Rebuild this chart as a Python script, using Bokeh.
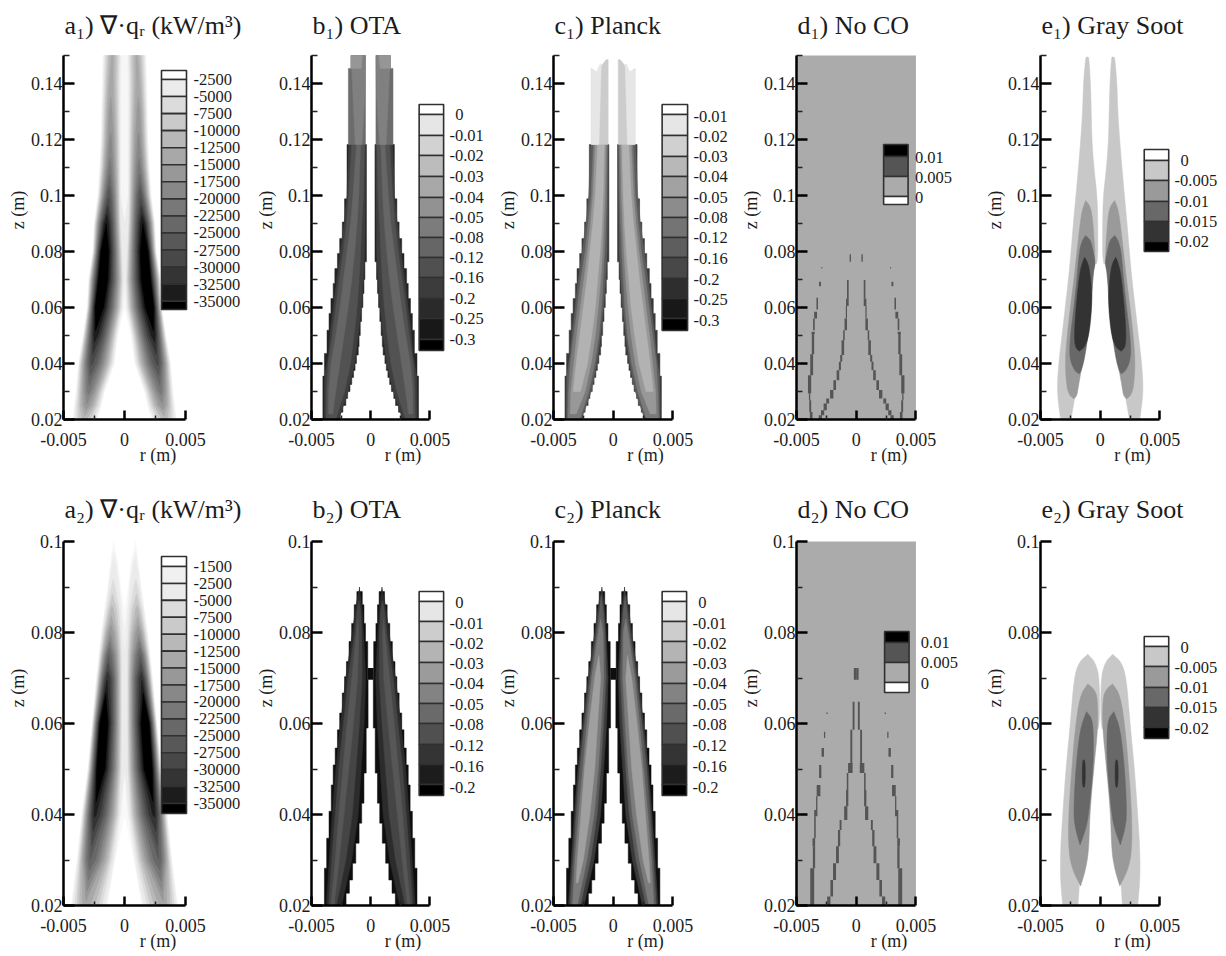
import numpy as np
from bokeh.embed import file_html
from bokeh.resources import INLINE
from bokeh.core.properties import value
from bokeh.layouts import column, row
from bokeh.models import FixedTicker, Label, Range1d
from bokeh.plotting import figure

# ---------- titles and tick labels ----------
TITLES_1 = ["a₁) ∇·qᵣ (kW/m³)", "b₁) OTA", "c₁) Planck", "d₁) No CO", "e₁) Gray Soot"]
TITLES_2 = ["a₂) ∇·qᵣ (kW/m³)", "b₂) OTA", "c₂) Planck", "d₂) No CO", "e₂) Gray Soot"]
R_TICKS = [-0.005, 0, 0.005]
R_TICK_LABELS = ["-0.005", "0", "0.005"]
R_MINOR = [-0.0025, 0.0025]
Z1_TICKS = [0.02, 0.04, 0.06, 0.08, 0.1, 0.12, 0.14]
Z1_TICK_LABELS = ["0.02", "0.04", "0.06", "0.08", "0.1", "0.12", "0.14"]
Z1_MINOR = [0.03, 0.05, 0.07, 0.09, 0.11, 0.13, 0.15]
Z2_TICKS = [0.02, 0.04, 0.06, 0.08, 0.1]
Z2_TICK_LABELS = ["0.02", "0.04", "0.06", "0.08", "0.1"]
Z2_MINOR = [0.03, 0.05, 0.07, 0.09]

# ---------- legend labels ----------
A1_LABELS = ["-2500", "-5000", "-7500", "-10000", "-12500", "-15000", "-17500", "-20000",
             "-22500", "-25000", "-27500", "-30000", "-32500", "-35000"]
A2_LABELS = ["-1500", "-2500", "-5000", "-7500", "-10000", "-12500", "-15000", "-17500", "-20000",
             "-22500", "-25000", "-27500", "-30000", "-32500", "-35000"]
B1_LABELS = ["0", "-0.01", "-0.02", "-0.03", "-0.04", "-0.05", "-0.08", "-0.12", "-0.16", "-0.2", "-0.25", "-0.3"]
C1_LABELS = ["-0.01", "-0.02", "-0.03", "-0.04", "-0.05", "-0.08", "-0.12", "-0.16", "-0.2", "-0.25", "-0.3"]
B2_LABELS = ["0", "-0.01", "-0.02", "-0.03", "-0.04", "-0.05", "-0.08", "-0.12", "-0.16", "-0.2"]
D_LABELS = ["0.01", "0.005", "0"]
E_LABELS = ["0", "-0.005", "-0.01", "-0.015", "-0.02"]

# ---------- panel a: per height z (m): value on the axis, r (mm) where the lobe starts,
#            r of its ridge, r where it ends, and |div q| on the ridge (1000 kW/m3) ----------
A1_Z =     [.02, .025, .03, .04, .05, .06, .07, .08, .09, .10, .11, .12, .13, .14, .15]
A1_AXIS =  [0, 0, 0, 0, .5, 1.5, 3, 3, 3, 1.5, 1.5, 1.5, 1.5, 1.5, 1.5]
A1_START = [2.2, 1.85, 1.6, .8, .55, .15, .1, .2, .3, .3, .3, .3, .3, .3, .25]
A1_RIDGE = [3.3, 3.1, 2.95, 2.7, 2.4, 2.2, 1.85, 1.7, 1.5, 1.3, 1.2, 1.15, 1.15, 1.1, 1.0]
A1_END =   [4.3, 4.15, 4.0, 3.8, 3.4, 3.06, 2.95, 2.6, 2.5, 2.2, 2.05, 1.95, 1.9, 1.85, 1.8]
A1_PEAK =  [11, 17, 21, 28, 34, 40, 41, 41, 35, 27, 21, 18, 16, 14, 13]
A2_Z =     [.02, .03, .04, .05, .06, .07, .075, .08, .085, .09, .095, .1]
A2_AXIS =  [0, 0, .5, 2.5, 3, 3, 3, 2, 1, .3, 0, 0]
A2_START = [1.37, .75, .27, .2, .2, .2, .2, .2, .2, .3, .45, .85]
A2_RIDGE = [3.2, 2.8, 2.43, 2.05, 1.8, 1.4, 1.3, 1.15, 1.05, .95, .9, .9]
A2_END =   [4.4, 3.9, 3.5, 3.0, 2.65, 2.3, 2.1, 1.9, 1.65, 1.4, 1.2, .95]
A2_PEAK =  [14, 25, 33, 40, 41, 32, 25, 17, 11, 6, 3, .6]
A1_LEVELS = [0.8, 2.5, 5, 7.5, 10, 12.5, 15, 17.5, 20, 22.5, 25, 27.5, 30, 32.5, 35]
A2_LEVELS = [0.5, 1.5, 2.5, 5, 7.5, 10, 12.5, 15, 17.5, 20, 22.5, 25, 27.5, 30, 32.5, 35]

# ---------- panels b, c: staircase mesh edges (z top of step, r mm) ----------
R1_START = 0.02
R1_OUT = [(.0355, 4.04), (.0436, 3.91), (.0519, 3.69), (.0579, 3.52), (.0632, 3.36), (.0686, 3.17),
          (.0739, 3.03), (.0793, 2.81), (.0846, 2.62), (.0905, 2.4), (.0988, 2.21), (.1182, 2.0)]
R1_IN = [(.0226, 2.57), (.025, 2.35), (.0275, 2.1), (.03, 1.95), (.0325, 1.75), (.035, 1.6), (.0375, 1.45),
         (.04, 1.32), (.043, 1.2), (.046, 1.05), (.05, .98), (.055, .88), (.06, .77), (.065, .66), (.07, .57),
         (.0763, .49), (.1182, .36)]
R2_OUT = [(.0282, 3.91), (.0348, 3.72), (.0407, 3.52), (.0465, 3.33), (.0509, 3.17), (.0546, 3.0), (.0586, 2.81),
          (.0623, 2.62), (.0667, 2.4), (.0703, 2.21), (.0736, 2.05), (.078, 1.83), (.082, 1.61), (.0861, 1.39),
          (.089, 1.17), (.09, .95)]
R2_IN = [(.0227, 2.08), (.0256, 1.8), (.0293, 1.53), (.0337, 1.26), (.0381, .98), (.0425, .76), (.0491, .57),
         (.059, .38), (.0696, .22), (.078, .25), (.082, .44), (.0861, .57), (.089, .71), (.09, .95)]
R2_BRIDGE = (.0696, .0722, .25)

# bands as (z, r mm) paths: one outer and one inner path per band
B1_OUTER = [
    [(.02, 3.92), (.0355, 3.88), (.0436, 3.55), (.052, 3.4), (.06, 3.15), (.0686, 2.9), (.08, 2.55), (.09, 2.25), (.1, 2.0), (.1182, 1.85)],
    [(.02, 3.75), (.03, 3.72), (.04, 3.58), (.05, 3.25), (.06, 2.95), (.07, 2.65), (.08, 2.32), (.09, 2.05), (.1, 1.85), (.1182, 1.6)],
    [(.022, 3.55), (.03, 3.55), (.04, 3.35), (.05, 2.95), (.06, 2.6), (.07, 2.3), (.08, 2.0), (.09, 1.7), (.1, 1.5), (.1182, 1.2)],
    [(.1182, 1.885), (.1454, 1.885), (.1454, 1.67), (.15, 1.67)],
    [(.1182, 1.3), (.1454, 1.6), (.15, 1.5)],
    [(.1454, 1.67), (.15, 1.67)],
]
B1_INNER = [
    [(.02, 2.7), (.03, 1.9), (.04, 1.35), (.05, 1.05), (.06, .8), (.07, .62), (.08, .5), (.1, .45), (.1182, .42)],
    [(.02, 2.95), (.03, 2.2), (.04, 1.7), (.05, 1.4), (.06, 1.15), (.07, .97), (.08, .85), (.09, .75), (.1, .62), (.1182, .52)],
    [(.022, 3.2), (.03, 2.95), (.04, 2.6), (.05, 2.25), (.06, 1.9), (.07, 1.6), (.08, 1.35), (.09, 1.15), (.1, 1.0), (.1182, .85)],
    [(.1182, .44), (.15, .44)],
    [(.1182, .75), (.135, .5), (.15, .45)],
    [(.1454, .8), (.15, .7)],
]
C1_OUTER = [
    [(.02, 3.92), (.0355, 3.88), (.0436, 3.6), (.052, 3.42), (.06, 3.18), (.0686, 2.95), (.08, 2.6), (.09, 2.28), (.1, 2.05), (.1182, 1.88)],
    [(.02, 3.8), (.03, 3.75), (.04, 3.6), (.05, 3.3), (.06, 3.0), (.07, 2.7), (.08, 2.35), (.09, 2.1), (.1, 1.85), (.1182, 1.65)],
    [(.022, 3.6), (.03, 3.55), (.04, 3.3), (.05, 3.05), (.06, 2.75), (.07, 2.45), (.08, 2.15), (.09, 1.9), (.1, 1.7), (.1182, 1.5)],
    [(.03, 3.35), (.04, 3.1), (.05, 2.8), (.06, 2.5), (.07, 2.2), (.08, 1.95), (.09, 1.7), (.1, 1.5), (.1182, 1.3)],
    [(.1182, 1.83), (.1454, 1.83), (.144, 1.4), (.1485, .6)],
    [(.1182, 1.83), (.1454, 1.83), (.144, 1.4), (.147, 1.1)],
]
C1_INNER = [
    [(.02, 2.65), (.03, 1.85), (.04, 1.38), (.05, 1.06), (.06, .82), (.07, .64), (.08, .52), (.1, .46), (.1182, .42)],
    [(.02, 2.8), (.03, 2.05), (.04, 1.55), (.05, 1.2), (.06, .98), (.07, .85), (.08, .72), (.09, .62), (.1, .55), (.1182, .5)],
    [(.022, 3.1), (.03, 2.35), (.04, 1.85), (.05, 1.5), (.06, 1.25), (.07, 1.05), (.08, .9), (.09, .8), (.1, .7), (.1182, .62)],
    [(.03, 2.75), (.04, 2.15), (.05, 1.8), (.06, 1.5), (.07, 1.3), (.08, 1.1), (.09, .95), (.1, .85), (.1182, .75)],
    [(.1182, .42), (.1485, .42)],
    [(.1182, 1.2), (.147, 1.0)],
]
B2_OUTER = [
    [(.02, 3.75), (.03, 3.5), (.04, 3.25), (.05, 2.95), (.06, 2.55), (.07, 2.1), (.08, 1.55), (.085, 1.3), (.088, 1.1), (.0895, .95)],
    [(.02, 3.55), (.03, 3.3), (.04, 3.0), (.05, 2.7), (.06, 2.3), (.07, 1.9), (.08, 1.35), (.085, 1.15), (.087, 1.0)],
    [(.02, 3.35), (.03, 3.0), (.04, 2.7), (.05, 2.35), (.06, 2.0), (.07, 1.6), (.08, 1.2), (.083, 1.1)],
]
B2_INNER = [
    [(.02, 2.45), (.03, 1.6), (.04, 1.05), (.05, .8), (.06, .55), (.07, .42), (.08, .6), (.085, .72), (.088, .85), (.0895, .95)],
    [(.02, 2.9), (.03, 2.1), (.04, 1.55), (.05, 1.25), (.06, .95), (.07, .72), (.08, .75), (.085, .85), (.087, 1.0)],
    [(.02, 3.1), (.03, 2.65), (.04, 2.25), (.05, 1.85), (.06, 1.45), (.07, 1.1), (.08, 1.0), (.083, 1.1)],
]
C2_OUTER = [
    [(.02, 3.75), (.03, 3.5), (.04, 3.25), (.05, 2.95), (.06, 2.55), (.07, 2.1), (.08, 1.55), (.085, 1.3), (.088, 1.1), (.0895, .95)],
    [(.02, 3.6), (.03, 3.35), (.04, 3.1), (.05, 2.8), (.06, 2.4), (.07, 1.95), (.08, 1.4), (.085, 1.15), (.088, 1.0)],
    [(.02, 3.4), (.03, 3.2), (.04, 2.9), (.05, 2.55), (.06, 2.2), (.07, 1.8), (.08, 1.25), (.083, 1.05)],
    [(.025, 3.1), (.03, 3.0), (.04, 2.7), (.05, 2.4), (.06, 2.0), (.07, 1.55), (.075, 1.2)],
]
C2_INNER = [
    [(.02, 2.45), (.03, 1.6), (.04, 1.05), (.05, .8), (.06, .55), (.07, .42), (.08, .6), (.085, .72), (.088, .85), (.0895, .95)],
    [(.02, 2.75), (.03, 1.9), (.04, 1.35), (.05, 1.05), (.06, .8), (.07, .6), (.08, .7), (.085, .85), (.088, 1.0)],
    [(.02, 3.0), (.03, 2.2), (.04, 1.6), (.05, 1.25), (.06, 1.0), (.07, .8), (.08, .85), (.083, 1.05)],
    [(.025, 2.95), (.03, 2.5), (.04, 1.95), (.05, 1.55), (.06, 1.3), (.07, 1.05), (.075, 1.2)],
]

# ---------- panel d: thin strips (z low, z high, r low mm, r high mm) ----------
D1_STRIPS = [
    (.02, .0227, 3.66, 3.88), (.0227, .0269, 3.77, 3.93), (.0269, .0293, 3.85, 3.96), (.0293, .0358, 3.77, 4.04),
    (.0358, .0433, 3.61, 3.85), (.0433, .0507, 3.52, 3.72), (.0505, .0513, 3.47, 3.74), (.0519, .0561, 3.47, 3.61),
    (.0561, .0585, 3.28, 3.52), (.0593, .0635, 3.2, 3.33), (.0676, .0692, 2.95, 3.11), (.0739, .0745, 2.84, 2.92),
    (.02, .0215, 2.87, 3.14), (.0215, .0233, 2.68, 2.95), (.0233, .0257, 2.46, 2.73), (.0257, .0275, 2.27, 2.51),
    (.0275, .0305, 1.91, 2.19), (.0305, .034, 1.69, 1.91), (.034, .0376, 1.42, 1.64), (.0376, .0406, 1.28, 1.45),
    (.0406, .043, 1.17, 1.34), (.043, .0483, 1.01, 1.23), (.0483, .0519, .96, 1.09), (.0519, .0561, .77, .98),
    (.0561, .0605, .77, .87), (.0605, .0632, .63, .85), (.0632, .0698, .63, .77), (.0763, .079, .44, .55),
]
D2_STRIPS = [
    (.02, .0282, 3.52, 3.85), (.0282, .033, 3.44, 3.63), (.033, .0348, 3.44, 3.66), (.0348, .0396, 3.39, 3.52),
    (.0396, .041, 3.25, 3.52), (.041, .044, 3.25, 3.36), (.044, .0465, 3.0, 3.31), (.048, .0509, 2.92, 3.11),
    (.0527, .0546, 2.7, 2.9), (.0568, .0582, 2.6, 2.7), (.0621, .0624, 2.38, 2.49),
    (.02, .022, 2.16, 2.43), (.022, .0256, 1.94, 2.16), (.0256, .0293, 1.69, 1.94), (.0293, .033, 1.45, 1.69),
    (.033, .0366, 1.34, 1.53), (.0366, .0388, 1.23, 1.39), (.0388, .0418, .74, 1.01), (.0418, .0454, .66, .85),
    (.0454, .0491, .66, .79), (.0491, .0513, .3, .68), (.0513, .0586, .33, .49), (.0586, .0648, .14, .3),
    (.0696, .0722, 0, .2),
]

# ---------- panel e: nested lobes as (z, r mm) paths ----------
E1_OUTER = [
    [(.016, 3.15), (.02, 3.32), (.03, 3.62), (.04, 3.48), (.05, 3.2), (.06, 2.93), (.07, 2.66), (.08, 2.44), (.09, 2.25), (.1, 2.03), (.11, 1.82), (.12, 1.63), (.13, 1.47), (.14, 1.41), (.149, 1.22), (.1495, 1.15)],
    [(.0274, 2.2), (.0285, 2.55), (.0315, 2.8), (.04, 2.94), (.05, 2.77), (.06, 2.5), (.07, 2.2), (.08, 1.95), (.09, 1.68), (.095, 1.5), (.0982, 1.22)],
    [(.0363, 1.76), (.0375, 2.17), (.042, 2.58), (.05, 2.5), (.06, 2.2), (.07, 1.95), (.08, 1.76), (.084, 1.5), (.0857, 1.22)],
    [(.0444, 1.76), (.0458, 2.09), (.05, 2.17), (.06, 2.03), (.072, 1.73), (.076, 1.5), (.078, 1.3)],
]
E1_INNER = [
    [(.016, 2.65), (.02, 2.45), (.03, 2.04), (.04, 1.63), (.05, 1.22), (.06, .87), (.07, .6), (.0755, .55), (.0755, .2), (.09, .2), (.1, .26), (.11, .53), (.12, .7), (.13, .75), (.14, .81), (.149, .95), (.1495, 1.0)],
    [(.0274, 2.2), (.0285, 1.95), (.0315, 1.84), (.04, 1.49), (.05, 1.22), (.06, .94), (.072, .67), (.076, .4), (.09, .59), (.096, .8), (.0982, 1.22)],
    [(.0363, 1.76), (.0375, 1.57), (.042, 1.3), (.05, 1.02), (.06, .75), (.072, .6), (.076, .4), (.08, .59), (.084, .8), (.0857, 1.22)],
    [(.0444, 1.76), (.0458, 1.3), (.05, .94), (.06, .7), (.067, .72), (.075, .94), (.078, 1.3)],
]
E2_OUTER = [
    [(.016, 3.05), (.02, 3.14), (.0256, 3.33), (.032, 3.33), (.04, 3.14), (.05, 2.87), (.06, 2.5), (.07, 2.19), (.0735, 1.78), (.0752, 1.04)],
    [(.0243, 1.64), (.0278, 2.32), (.032, 2.65), (.04, 2.65), (.05, 2.38), (.0587, 2.1), (.0662, 1.69), (.0687, 1.04)],
    [(.0333, 1.69), (.0366, 2.05), (.04, 2.24), (.05, 2.05), (.0587, 1.69), (.0626, 1.15)],
    [(.046, 1.5), (.052, 1.5)],
]
E2_INNER = [
    [(.016, 1.95), (.02, 1.86), (.0293, 1.63), (.04, 1.09), (.05, .49), (.0585, .41), (.059, .05), (.0698, .05), (.0735, .41), (.0752, 1.04)],
    [(.0243, 1.64), (.0278, 1.23), (.032, .96), (.04, .87), (.05, .55), (.059, .19), (.0655, .22), (.0675, .49), (.0687, 1.04)],
    [(.0333, 1.69), (.0366, 1.23), (.04, .96), (.05, .6), (.0565, .55), (.061, .66), (.0626, 1.15)],
    [(.046, 1.25), (.052, 1.25)],
]

# ---------- styles ----------
SERIF = value("Liberation Serif")
INK = "#1c1c1c"
PROFILE_POWER = 0.7
A_GRAYS = ["#ebebeb", "#dcdcdc", "#cacaca", "#b8b8b8", "#a8a8a8", "#989898", "#888888",
           "#787878", "#686868", "#585858", "#484848", "#343434", "#1c1c1c"]
A1_FILLS = ["#f6f6f6"] + A_GRAYS + ["#000000"]
A2_FILLS = ["#f8f8f8", "#f0f0f0"] + A_GRAYS + ["#000000"]
A1_SWATCH = ["#ffffff"] + A_GRAYS + ["#000000"]
A2_SWATCH = ["#ffffff", "#f0f0f0"] + A_GRAYS + ["#000000"]
B1_SWATCH = ["#ffffff", "#e6e6e6", "#d2d2d2", "#bcbcbc", "#a8a8a8", "#929292", "#7c7c7c", "#666666",
             "#505050", "#3c3c3c", "#2a2a2a", "#181818", "#000000"]
C1_SWATCH = ["#ffffff", "#e6e6e6", "#d0d0d0", "#b8b8b8", "#a2a2a2", "#8c8c8c", "#747474", "#5e5e5e",
             "#484848", "#2e2e2e", "#181818", "#000000"]
B2_SWATCH = ["#ffffff", "#e6e6e6", "#cdcdcd", "#b4b4b4", "#9b9b9b", "#838383", "#6a6a6a", "#505050", "#343434", "#1c1c1c", "#000000"]
D_SWATCH = ["#000000", "#555555", "#ababab", "#ffffff"]
E_SWATCH = ["#ffffff", "#c8c8c8", "#9a9a9a", "#686868", "#333333", "#000000"]
B1_COLORS = ["#3e3e3e", "#525252", "#666666", "#6c6c6c", "#808080", "#969696"]
C1_COLORS = ["#5c5c5c", "#7a7a7a", "#989898", "#b2b2b2", "#cccccc", "#e6e6e6"]
B2_COLORS = ["#2c2c2c", "#454545", "#575757"]
C2_COLORS = ["#3a3a3a", "#5c5c5c", "#7c7c7c", "#a0a0a0"]
E_COLORS = ["#c8c8c8", "#9a9a9a", "#686868", "#333333"]

# ---------- page geometry (px) ----------
CELL_X = [0, 252, 494, 737, 981, 1224]
SPINE_X = [63, 307, 549, 792, 1036]
PANEL_W = [122, 121, 122, 122, 122]
ROWS = [dict(top=0, z0=419, bottom=470, ztop=0.15), dict(top=470, z0=905, bottom=956, ztop=0.10)]
Z_PX = 364


class Panel:
    def __init__(self, col, rw, title, zticks, zlabels, zminor):
        self.left, self.pw = SPINE_X[col], PANEL_W[col]
        info = ROWS[rw]
        self.z0, self.zscale = info["z0"], Z_PX / (info["ztop"] - 0.02)
        self.rscale = self.pw / 0.01
        xmax = self.X(CELL_X[col + 1])
        ymax = self.Y(info["top"])
        self.fig = figure(
            width=CELL_X[col + 1] - CELL_X[col], height=info["bottom"] - info["top"],
            x_range=Range1d(-0.005, xmax), y_range=Range1d(0.02, ymax),
            min_border_left=SPINE_X[col] - CELL_X[col], min_border_right=0, min_border_top=0,
            min_border_bottom=info["bottom"] - info["z0"],
            toolbar_location=None, output_backend="svg", outline_line_color=None,
            background_fill_color=None, border_fill_color=None,
        )
        p = self.fig
        p.grid.visible = False
        ax = p.xaxis[0]
        ax.bounds = (-0.005, 0.005)
        ax.ticker = FixedTicker(ticks=R_TICKS, minor_ticks=R_MINOR)
        ax.major_label_overrides = dict(zip(R_TICKS, R_TICK_LABELS))
        ax.axis_label = "r (m)"
        ax.axis_label_standoff = -4
        ax.major_label_standoff = 13
        ax.major_tick_in, ax.major_tick_out = 9, 0
        ax.minor_tick_in, ax.minor_tick_out = 4, 0
        ay = p.yaxis[0]
        ay.bounds = (0.02, info["ztop"])
        ay.ticker = FixedTicker(ticks=zticks, minor_ticks=zminor)
        ay.major_label_overrides = dict(zip(zticks, zlabels))
        ay.axis_label = "z (m)"
        ay.axis_label_standoff = 0
        ay.major_label_standoff = 1
        ay.major_tick_in, ay.major_tick_out = 11, 0
        ay.minor_tick_in, ay.minor_tick_out = 6, 0
        for a in (ax, ay):
            a.axis_line_width = 2.5
            a.axis_line_color = "black"
            a.major_tick_line_width = 2.5
            a.major_tick_line_color = "black"
            a.minor_tick_line_width = 1.5
            a.minor_tick_line_color = "#222222"
            a.major_label_text_font = "Liberation Serif"
            a.major_label_text_font_size = "18px"
            a.major_label_text_color = INK
            a.axis_label_text_font = "Liberation Serif"
            a.axis_label_text_font_size = "18px"
            a.axis_label_text_font_style = "normal"
            a.axis_label_text_color = INK
        ay.major_label_orientation = "horizontal"
        self.title = title

    def X(self, px):
        return -0.005 + (px - self.left) / self.rscale

    def Y(self, py):
        return 0.02 + (self.z0 - py) / self.zscale

    def put_title(self, px, py):
        self.fig.add_layout(Label(x=self.X(px), y=self.Y(py), text=self.title, text_font="Liberation Serif",
                                  text_font_size="26px", text_baseline="middle", text_align="left", text_color=INK))

    def legend(self, x0, x1, edges, fills, labels, label_ys, label_x, shift_zero=0):
        p = self.fig
        left = [self.X(x0)] * len(fills)
        right = [self.X(x1)] * len(fills)
        top = [self.Y(v) for v in edges[:-1]]
        bottom = [self.Y(v) for v in edges[1:]]
        p.quad(left=left, right=right, top=top, bottom=bottom, fill_color=fills, line_color="#303030", line_width=1.6)
        xs = [self.X(label_x + (shift_zero if t == "0" else 0)) for t in labels]
        ys = [self.Y(v) for v in label_ys]
        p.text(xs, ys, text=labels, text_font=SERIF, text_font_size="16.5px", text_baseline="middle",
               text_align="left", text_color=INK)

    def field(self, zs, axis, start, ridge, end, peak, levels, fills):
        """Contour bands of a lobe: each level crosses each listed row at a point of its profile."""
        for lev, col in zip(levels, fills):
            rows = [i for i, pk in enumerate(peak) if pk >= lev]
            if not rows:
                continue
            outer, inner = [], []
            for i in rows:
                outer.append((zs[i], ridge[i] + (end[i] - ridge[i]) * (1 - lev / peak[i]) ** PROFILE_POWER))
                if lev <= axis[i]:
                    inner.append((zs[i], 0.0))
                else:
                    gap = 1 - (lev - axis[i]) / (peak[i] - axis[i])
                    inner.append((zs[i], ridge[i] - (ridge[i] - start[i]) * gap ** PROFILE_POWER))
            lo, hi = rows[0], rows[-1]
            if lo > 0:
                t = (lev - peak[lo - 1]) / (peak[lo] - peak[lo - 1])
                tip = (zs[lo - 1] + t * (zs[lo] - zs[lo - 1]), ridge[lo - 1] + t * (ridge[lo] - ridge[lo - 1]))
                outer.insert(0, tip)
                inner.insert(0, tip)
            if hi < len(peak) - 1:
                t = (peak[hi] - lev) / (peak[hi] - peak[hi + 1])
                tip = (zs[hi] + t * (zs[hi + 1] - zs[hi]), ridge[hi] + t * (ridge[hi + 1] - ridge[hi]))
                outer.append(tip)
                inner.append(tip)
            self.band(outer, inner, col)

    def band(self, outer, inner, color, smooth=0):
        pts = list(outer) + list(reversed(inner))
        for _ in range(smooth):
            cut = []
            for k, a in enumerate(pts):
                b = pts[(k + 1) % len(pts)]
                cut.append((0.75 * a[0] + 0.25 * b[0], 0.75 * a[1] + 0.25 * b[1]))
                cut.append((0.25 * a[0] + 0.75 * b[0], 0.25 * a[1] + 0.75 * b[1]))
            pts = cut
        zs = [a for a, _ in pts]
        rs = [b * 1e-3 for _, b in pts]
        for s in (-1, 1):
            self.fig.patch([s * v for v in rs], zs, fill_color=color, line_color=color, line_width=0.5)

    def strips(self, table, color):
        z0 = [t[0] for t in table]
        z1 = [t[1] for t in table]
        r0 = np.array([t[2] for t in table]) * 1e-3
        r1 = np.array([t[3] for t in table]) * 1e-3
        for s in (-1, 1):
            self.fig.quad(left=s * r0, right=s * r1, bottom=z0, top=z1, fill_color=color, line_color=None)


def stairs(start, steps):
    pts, z = [], start
    for top, r in steps:
        pts += [(z, r), (top, r)]
        z = top
    return pts


def evenly(first, last, n):
    return [first + (last - first) * i / (n - 1) for i in range(n)]


panels = []
for rw, (titles, zt, zl, zm) in enumerate([(TITLES_1, Z1_TICKS, Z1_TICK_LABELS, Z1_MINOR),
                                           (TITLES_2, Z2_TICKS, Z2_TICK_LABELS, Z2_MINOR)]):
    panels.append([Panel(c, rw, titles[c], zt, zl, zm) for c in range(5)])

# --- a ---
a1, a2 = panels[0][0], panels[1][0]
a1.field(A1_Z, A1_AXIS, A1_START, A1_RIDGE, A1_END, A1_PEAK, A1_LEVELS, A1_FILLS)
a2.field(A2_Z, A2_AXIS, A2_START, A2_RIDGE, A2_END, A2_PEAK, A2_LEVELS, A2_FILLS)
ly = evenly(79, 300.7, 14)
a1.legend(161, 186, [70] + ly + [309], A1_SWATCH, A1_LABELS, ly, 193)
ly = evenly(566, 803, 15)
a2.legend(161, 186, [556] + ly + [813], A2_SWATCH, A2_LABELS, ly, 193)

# --- b, c, row 1 ---
b1, c1 = panels[0][1], panels[0][2]
b1.band(stairs(R1_START, R1_OUT), stairs(R1_START, R1_IN), "#242424")
for o, i, col in zip(B1_OUTER, B1_INNER, B1_COLORS):
    b1.band(o, i, col)
c1.band(stairs(R1_START, R1_OUT), stairs(R1_START, R1_IN), "#3a3a3a")
for o, i, col in zip(C1_OUTER, C1_INNER, C1_COLORS):
    c1.band(o, i, col)
edges = [104, 114, 135, 155, 176, 197, 217, 237, 257, 277, 298, 318, 339, 350]
b1.legend(417, 442, edges, B1_SWATCH, B1_LABELS, edges[1:-1], 448, shift_zero=6)
edges = [104, 114, 135, 156, 176, 197, 217, 237, 257, 278, 298, 318, 330]
c1.legend(660, 686, edges, C1_SWATCH, C1_LABELS, [116, 136, 156, 176, 197, 217, 237, 258, 279, 299, 320], 692)

# --- b, c, row 2 ---
b2, c2 = panels[1][1], panels[1][2]
for pan, outer, inner, colors, lx in [(b2, B2_OUTER, B2_INNER, B2_COLORS, 417), (c2, C2_OUTER, C2_INNER, C2_COLORS, 660)]:
    pan.band(stairs(R1_START, R2_OUT), stairs(R1_START, R2_IN), "#0e0e0e")
    pan.fig.quad(left=[-R2_BRIDGE[2] * 1e-3], right=[R2_BRIDGE[2] * 1e-3], bottom=[R2_BRIDGE[0]], top=[R2_BRIDGE[1]],
                 fill_color="#0e0e0e", line_color=None)
    for o, i, col in zip(outer, inner, colors):
        pan.band(o, i, col)
    edges = [591, 601, 621, 641, 662, 683, 703, 723, 744, 764, 784, 795]
    pan.legend(lx, lx + 25, edges, B2_SWATCH, B2_LABELS,
               [602, 623, 643, 663, 683, 704, 724, 745, 766, 787], lx + 31, shift_zero=6)

# --- d ---
for rw, strips_tab in enumerate([D1_STRIPS, D2_STRIPS]):
    d = panels[rw][3]
    d.fig.quad(left=[-0.005], right=[0.005], bottom=[0.02], top=[ROWS[rw]["ztop"]], fill_color="#ababab", line_color=None)
    d.strips(strips_tab, "#555555")
panels[0][3].legend(881, 906, [144, 156, 176, 196, 204], D_SWATCH, D_LABELS, [157, 177, 197], 913)
panels[1][3].legend(882, 907, [631, 642, 662, 682, 692], D_SWATCH, D_LABELS, [642, 662, 683], 919)

# --- e ---
e1, e2 = panels[0][4], panels[1][4]
for o, i, col in zip(E1_OUTER, E1_INNER, E_COLORS):
    e1.band(o, i, col, smooth=2)
for o, i, col in zip(E2_OUTER, E2_INNER, E_COLORS):
    e2.band(o, i, col, smooth=2)
e1.legend(1142, 1167, [149, 160, 180, 201, 221, 241, 251], E_SWATCH, E_LABELS, [160, 180, 201, 221, 241], 1173, shift_zero=6)
e2.legend(1142, 1167, [636, 646, 666, 687, 707, 727, 738], E_SWATCH, E_LABELS, [647, 667, 687, 707, 728], 1173, shift_zero=6)

# --- titles ---
TITLE_X = [64, 308, 550, 793, 1037]
for c in range(5):
    panels[0][c].put_title(TITLE_X[c], 25)
    panels[1][c].put_title(TITLE_X[c], 509)

layout = column(row(*[q.fig for q in panels[0]], spacing=0), row(*[q.fig for q in panels[1]], spacing=0), spacing=0)
open("out.html", "w").write(file_html(layout, INLINE))
